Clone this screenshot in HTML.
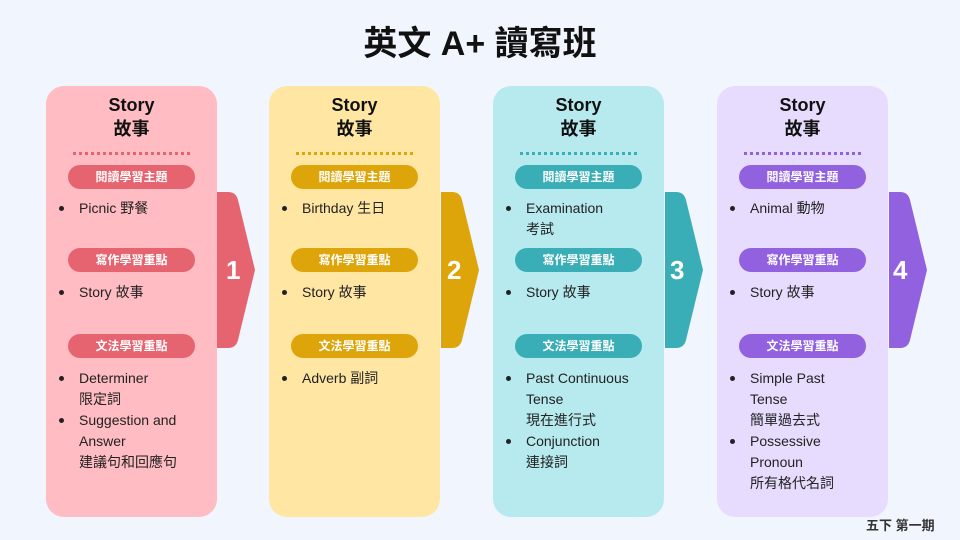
<!DOCTYPE html>
<html><head><meta charset="utf-8"><style>
*{margin:0;padding:0;box-sizing:border-box}
body{width:960px;height:540px;background:#f1f6fe;position:relative;overflow:hidden;font-family:"Liberation Sans","Noto Sans CJK TC",sans-serif;color:#222}
.a{position:absolute;white-space:nowrap}
.title{left:0;width:960px;text-align:center;top:22px;font-size:34px;font-weight:bold;color:#111;line-height:44px}
.card{position:absolute;top:86px;width:171px;height:431px;border-radius:18px}
.h{position:absolute;left:0;width:171px;text-align:center;font-weight:bold;font-size:18px;line-height:24px;color:#111}
.dot{position:absolute;left:27px;width:117px;top:66px;border-top:3px dotted}
.pill{position:absolute;left:22px;width:127px;height:24px;border-radius:12px;color:#fff;font-weight:bold;font-size:12px;line-height:24px;text-align:center}
.t{position:absolute;left:33px;font-size:14px;line-height:21px;white-space:nowrap;color:#222}
.b{position:absolute;left:13px;width:5px;height:5px;border-radius:50%;background:#222}
.tab{position:absolute;top:192px;left:217px}
.num{position:absolute;top:252px;font-size:26px;font-weight:bold;color:#fff;line-height:36px}
</style></head><body>
<div class="a title">英文 A+ 讀寫班</div>

<div class="card" style="left:46px;background:#ffbcc3"></div>
<div class="card" style="left:269px;background:#ffe6a3"></div>
<div class="card" style="left:493px;background:#b6eaee"></div>
<div class="card" style="left:717px;background:#e8dcfe"></div>

<svg width="960" height="540" style="position:absolute;left:0;top:0">
<path d="M217 192 H228 Q236 192 238 200 L255 270 L238 340 Q236 348 228 348 H217 Z" fill="#e5646f"/>
<path d="M441 192 H452 Q460 192 462 200 L479 270 L462 340 Q460 348 452 348 H441 Z" fill="#dea50a"/>
<path d="M665 192 H676 Q684 192 686 200 L703 270 L686 340 Q684 348 676 348 H665 Z" fill="#39aeb6"/>
<path d="M889 192 H900 Q908 192 910 200 L927 270 L910 340 Q908 348 900 348 H889 Z" fill="#9161e0"/>
</svg>
<div class="num" style="left:226px">1</div>
<div class="num" style="left:447px">2</div>
<div class="num" style="left:670px">3</div>
<div class="num" style="left:893px">4</div>

<!-- card 1 -->
<div class="card" style="left:46px;background:none">
<div class="h" style="top:7px">Story</div><div class="h" style="top:31px">故事</div>
<div class="dot" style="border-color:#e5646f"></div>
<div class="pill" style="top:79px;background:#e5646f">閱讀學習主題</div>
<div class="b" style="top:120px"></div><div class="t" style="top:112px">Picnic 野餐</div>
<div class="pill" style="top:162px;background:#e5646f">寫作學習重點</div>
<div class="b" style="top:204px"></div><div class="t" style="top:196px">Story 故事</div>
<div class="pill" style="top:248px;background:#e5646f">文法學習重點</div>
<div class="b" style="top:290px"></div><div class="t" style="top:282px">Determiner<br>限定詞</div>
<div class="b" style="top:332px"></div><div class="t" style="top:324px">Suggestion and<br>Answer<br>建議句和回應句</div>
</div>
<!-- card 2 -->
<div class="card" style="left:269px;background:none">
<div class="h" style="top:7px">Story</div><div class="h" style="top:31px">故事</div>
<div class="dot" style="border-color:#dea50a"></div>
<div class="pill" style="top:79px;background:#dea50a">閱讀學習主題</div>
<div class="b" style="top:120px"></div><div class="t" style="top:112px">Birthday 生日</div>
<div class="pill" style="top:162px;background:#dea50a">寫作學習重點</div>
<div class="b" style="top:204px"></div><div class="t" style="top:196px">Story 故事</div>
<div class="pill" style="top:248px;background:#dea50a">文法學習重點</div>
<div class="b" style="top:290px"></div><div class="t" style="top:282px">Adverb 副詞</div>
</div>
<!-- card 3 -->
<div class="card" style="left:493px;background:none">
<div class="h" style="top:7px">Story</div><div class="h" style="top:31px">故事</div>
<div class="dot" style="border-color:#39aeb6"></div>
<div class="pill" style="top:79px;background:#39aeb6">閱讀學習主題</div>
<div class="b" style="top:120px"></div><div class="t" style="top:112px">Examination<br>考試</div>
<div class="pill" style="top:162px;background:#39aeb6">寫作學習重點</div>
<div class="b" style="top:204px"></div><div class="t" style="top:196px">Story 故事</div>
<div class="pill" style="top:248px;background:#39aeb6">文法學習重點</div>
<div class="b" style="top:290px"></div><div class="t" style="top:282px">Past Continuous<br>Tense<br>現在進行式</div>
<div class="b" style="top:353px"></div><div class="t" style="top:345px">Conjunction<br>連接詞</div>
</div>
<!-- card 4 -->
<div class="card" style="left:717px;background:none">
<div class="h" style="top:7px">Story</div><div class="h" style="top:31px">故事</div>
<div class="dot" style="border-color:#9161e0"></div>
<div class="pill" style="top:79px;background:#9161e0">閱讀學習主題</div>
<div class="b" style="top:120px"></div><div class="t" style="top:112px">Animal 動物</div>
<div class="pill" style="top:162px;background:#9161e0">寫作學習重點</div>
<div class="b" style="top:204px"></div><div class="t" style="top:196px">Story 故事</div>
<div class="pill" style="top:248px;background:#9161e0">文法學習重點</div>
<div class="b" style="top:290px"></div><div class="t" style="top:282px">Simple Past<br>Tense<br>簡單過去式</div>
<div class="b" style="top:353px"></div><div class="t" style="top:345px">Possessive<br>Pronoun<br>所有格代名詞</div>
</div>

<div class="a" style="left:866px;top:516px;font-size:13px;font-weight:bold;color:#333;line-height:20px">五下 第一期</div>
</body></html>
